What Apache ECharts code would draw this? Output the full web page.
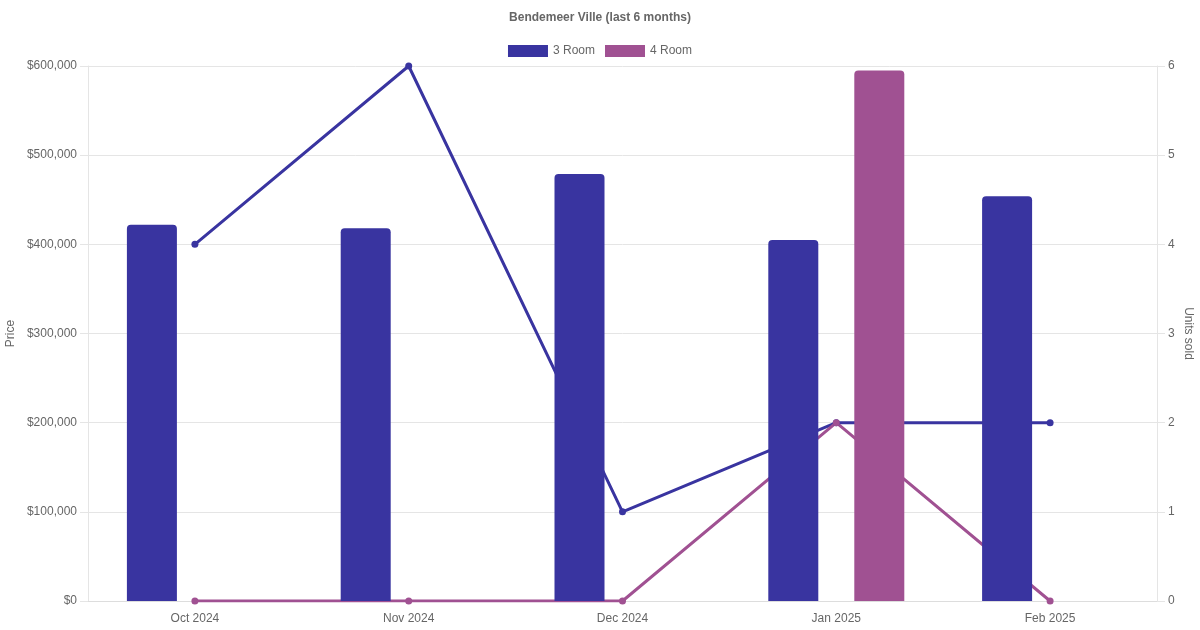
<!DOCTYPE html>
<html>
<head>
<meta charset="utf-8">
<script src="https://cdn.jsdelivr.net/npm/echarts@6/dist/echarts.min.js"></script>
<style>
  html, body { margin: 0; padding: 0; background: #fff; }
  #main { width: 1200px; height: 630px; }
</style>
</head>
<body>
<div id="main"></div>
<script>
    // 数据
    let months = ['Oct 2024', 'Nov 2024', 'Dec 2024', 'Jan 2025', 'Feb 2025'];
    let price3Room = [422000, 418000, 479000, 405000, 454000];
    let price4Room = [null, null, null, 595000, null];
    let units3Room = [4, 6, 1, 2, 2];
    let units4Room = [0, 0, 0, 2, 0];

    let color3 = '#3934a0',
        color4 = '#a05192',
        textColor = '#666';

    let myChart = echarts.init(document.getElementById('main'));

    let option = {
        animation: false,
        textStyle: {fontFamily: 'Liberation Sans, Arial, sans-serif'},
        // 标题
        title: {
            text: 'Bendemeer Ville (last 6 months)',
            left: 'center',
            top: 7,
            textStyle: {fontSize: 12, fontWeight: 'bold', color: textColor}
        },
        legend: {
            top: 40,
            left: 'center',
            itemWidth: 40,
            itemHeight: 12,
            itemGap: 10,
            icon: 'rect',
            textStyle: {fontSize: 12, color: textColor},
            data: ['3 Room', '4 Room']
        },
        grid: {left: 88, right: 43, top: 66, bottom: 29, containLabel: false, outerBoundsMode: 'none'},
        xAxis: {
            type: 'category',
            data: months,
            axisTick: {show: false},
            axisLine: {lineStyle: {color: '#ddd'}},
            axisLabel: {color: textColor, fontSize: 12, margin: 12},
            splitLine: {show: false}
        },
        yAxis: [
            {
                type: 'value',
                name: 'Price',
                nameLocation: 'middle',
                nameGap: 71,
                nameMoveOverlap: false,
                nameTextStyle: {color: textColor, fontSize: 12},
                min: 0,
                max: 600000,
                interval: 100000,
                axisLine: {show: true, lineStyle: {color: '#e5e5e5'}},
                axisTick: {show: true, length: 8, lineStyle: {color: '#e5e5e5'}},
                axisLabel: {
                    color: textColor, fontSize: 12, margin: 11,
                    formatter: (v) => '$' + v.toLocaleString('en-US')
                },
                splitLine: {lineStyle: {color: '#e5e5e5'}}
            },
            {
                type: 'value',
                name: 'Units sold',
                nameLocation: 'middle',
                nameGap: 25,
                nameMoveOverlap: false,
                nameRotate: -90,
                nameTextStyle: {color: textColor, fontSize: 12},
                min: 0,
                max: 6,
                interval: 1,
                axisLine: {show: true, lineStyle: {color: '#e5e5e5'}},
                axisTick: {show: true, length: 8, lineStyle: {color: '#e5e5e5'}},
                axisLabel: {color: textColor, fontSize: 12, margin: 11},
                splitLine: {show: false}
            }
        ],
        series: [
            {
                name: '3 Room',
                type: 'bar',
                data: price3Room,
                barWidth: 50,
                barGap: '72%',
                z: 3,
                itemStyle: {color: color3, borderRadius: [4, 4, 0, 0]}
            },
            {
                name: '4 Room',
                type: 'bar',
                data: price4Room,
                barWidth: 50,
                z: 3,
                itemStyle: {color: color4, borderRadius: [4, 4, 0, 0]}
            },
            {
                name: '3 Room',
                type: 'line',
                yAxisIndex: 1,
                data: units3Room,
                z: 1,
                symbol: 'circle',
                symbolSize: 7,
                lineStyle: {width: 3, color: color3},
                itemStyle: {color: color3}
            },
            {
                name: '4 Room',
                type: 'line',
                yAxisIndex: 1,
                data: units4Room,
                z: 1,
                symbol: 'circle',
                symbolSize: 7,
                lineStyle: {width: 3, color: color4},
                itemStyle: {color: color4}
            }
        ]
    };
    myChart.setOption(option);
</script>
</body>
</html>
